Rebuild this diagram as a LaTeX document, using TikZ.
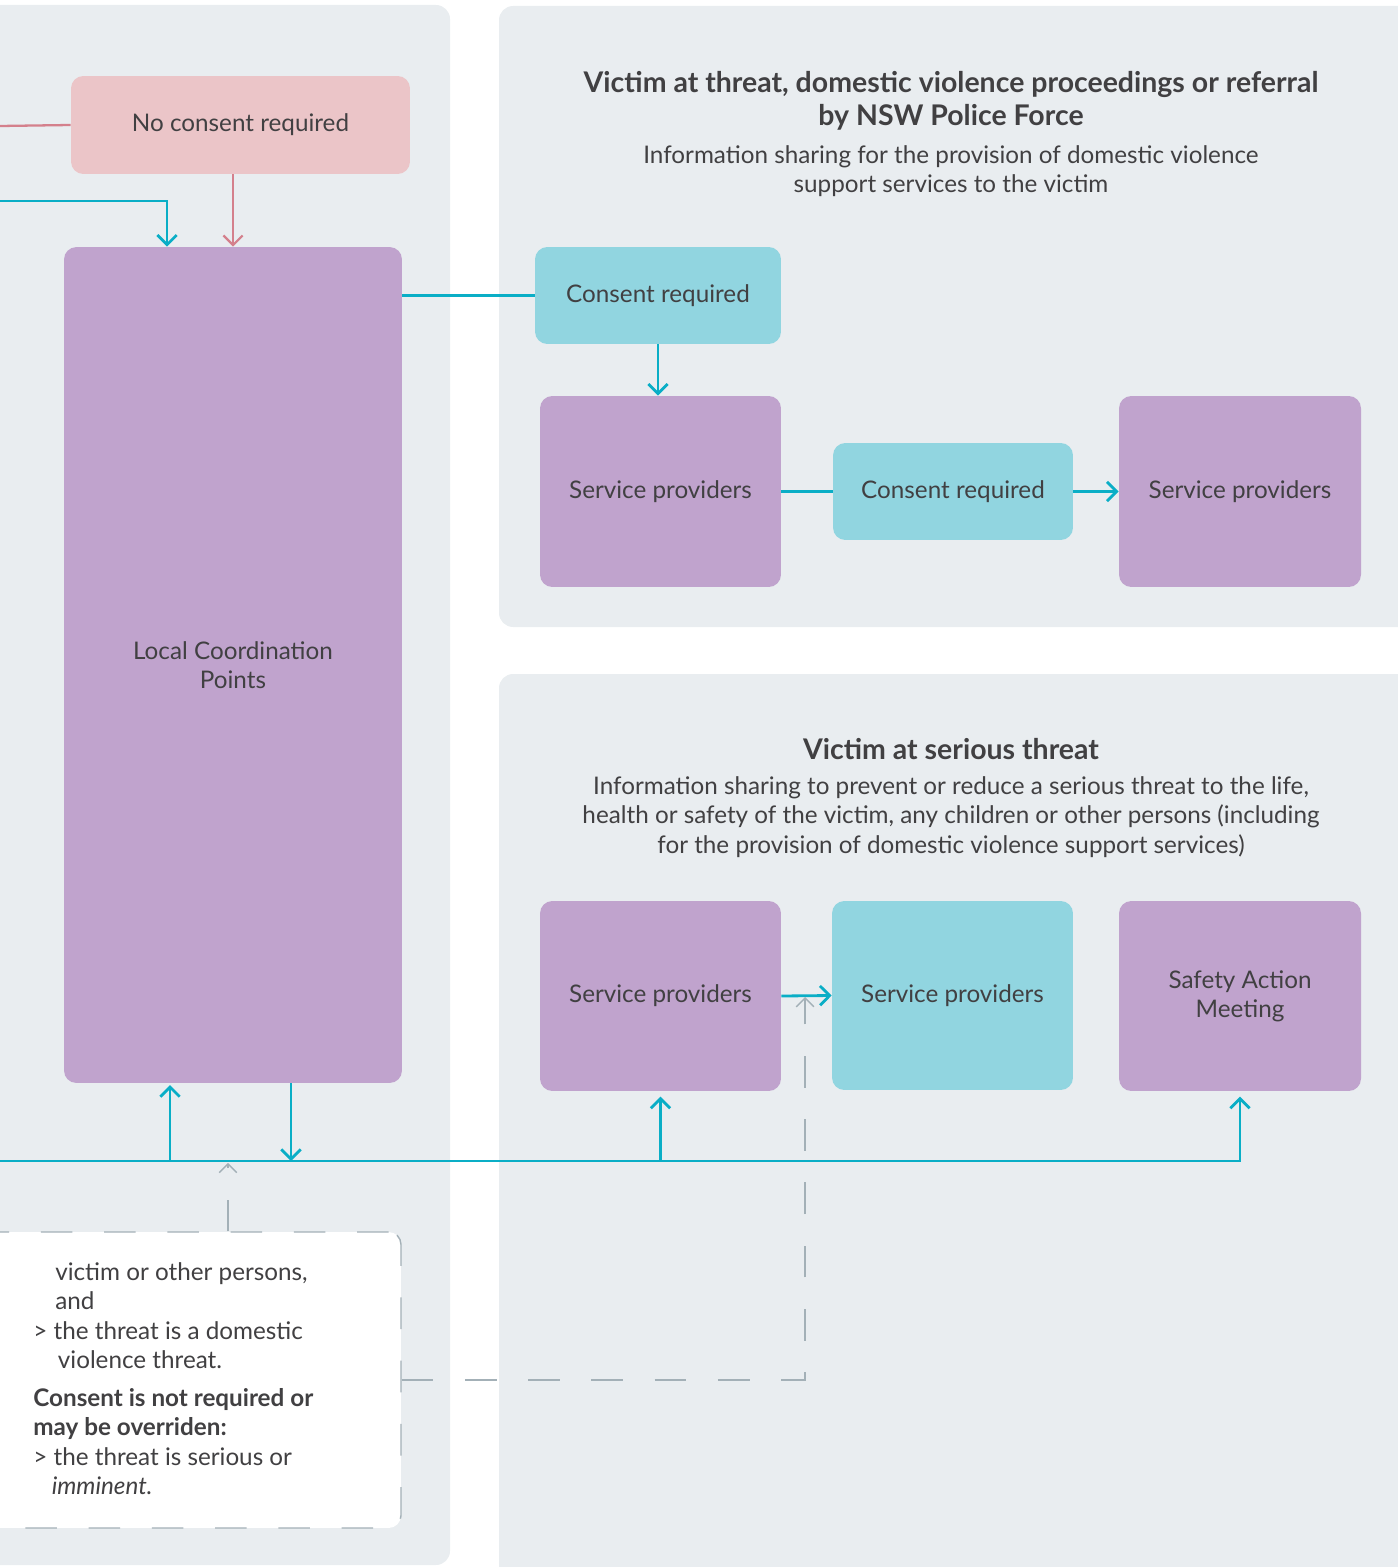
\documentclass[tikz,border=0pt]{standalone}
\usepackage{fontspec}
\setmainfont{Lato}
\usetikzlibrary{arrows.meta,positioning}
\definecolor{painel}{HTML}{E9EDF0}
\definecolor{lilas}{HTML}{C0A3CD}
\definecolor{turquesa}{HTML}{91D5E0}
\definecolor{rosa}{HTML}{EBC5C8}
\definecolor{rosaesc}{HTML}{D4808C}
\definecolor{linha}{HTML}{0AAEC6}
\definecolor{tracejado}{HTML}{A3B0B7}
\definecolor{texto}{HTML}{414042}

\begin{document}
\begin{tikzpicture}[x=0.02cm, y=-0.02cm,
  agency/.style={fill=lilas, rounded corners=7pt, align=center,
                 font=\fontsize{13.8}{16.6}\selectfont, text=texto},
  consent/.style={fill=turquesa, rounded corners=7pt, align=center,
                  font=\fontsize{13.8}{16.6}\selectfont, text=texto},
  noconsent/.style={fill=rosa, rounded corners=7pt, align=center,
                    font=\fontsize{13.8}{16.6}\selectfont, text=texto},
  titulo/.style={align=center, font=\fontsize{16.2}{18.7}\selectfont\bfseries, text=texto},
  subtitulo/.style={align=center, font=\fontsize{13.8}{16.8}\selectfont, text=texto},
  flow/.style={linha, line width=1.6pt, -{Straight Barb[length=5.5pt, width=11pt]}},
  plainflow/.style={linha, line width=1.6pt},
  pinkflow/.style={rosaesc, line width=1.3pt},
  hint/.style={tracejado, line width=0.8pt, dash pattern=on 18pt off 18pt}
]
\useasboundingbox (0,0) rectangle (1397,1567);

% panels
\fill[painel, rounded corners=8pt] (-30,5) rectangle (450,1565);
\fill[painel, rounded corners=8pt] (499,6) rectangle (1430,627);
\fill[painel, rounded corners=8pt] (499,674) rectangle (1430,1600);

% headings
\node[titulo] (t1) at (951,101)
  {Victim at threat, domestic violence proceedings or referral\\by NSW Police Force};
\node[subtitulo] (s1) at (951,171)
  {Information sharing for the provision of domestic violence\\support services to the victim};
\node[titulo] (t2) at (951,749) {Victim at serious threat};
\node[subtitulo] (s2) at (951,817)
  {Information sharing to prevent or reduce a serious threat to the life,\\
   health or safety of the victim, any children or other persons (including\\
   for the provision of domestic violence support services)};

% boxes
\node[noconsent, minimum width=6.78cm, minimum height=1.96cm] (nocons) at (240.5,125) {No consent required};
\node[agency, minimum width=6.76cm, minimum height=16.72cm] (lcp) at (233,665) {Local Coordination\\Points};
\node[consent, minimum width=4.92cm, minimum height=1.94cm] (cons1) at (658,295.5) {Consent required};
\node[agency, minimum width=4.82cm, minimum height=3.82cm] (sp1) at (660.5,491.5) {Service providers};
\node[consent, minimum width=4.8cm, minimum height=1.94cm] (cons2) at (953,491.5) {Consent required};
\node[agency, minimum width=4.84cm, minimum height=3.82cm] (sp2) at (1240,491.5) {Service providers};
\node[agency, minimum width=4.82cm, minimum height=3.8cm] (sp3) at (660.5,996) {Service providers};
\node[consent, minimum width=4.82cm, minimum height=3.78cm] (sp4) at (952.5,995.5) {Service providers};
\node[agency, minimum width=4.84cm, minimum height=3.8cm] (sam) at (1240,996) {Safety Action\\Meeting};

% note
\node[fill=white, draw=tracejado, line width=0.8pt, dash pattern=on 18pt off 18pt,
      rounded corners=7pt, minimum width=8.62cm, minimum height=5.92cm] (note) at (185.5,1380) {};
\node[anchor=north west, inner sep=0pt, align=left, text=texto,
      font=\fontsize{13.8}{16.8}\selectfont] (notetxt) at (33,1262)
  {\hspace*{12.5pt}victim or other persons,\\
   \hspace*{12.5pt}and\\
   > the threat is a domestic\\
   \hspace*{14pt}violence threat.\\[4.5pt]
   \textbf{Consent is not required or}\\
   \textbf{may be overriden:}\\
   > the threat is serious or\\
   \hspace*{10.5pt}\textit{imminent.}};

% connectors
\coordinate (pinkin) at (0,126);
\coordinate (tealin) at (0,201);
\coordinate (busin) at (0,1161);
\coordinate (gatetip) at (805,997);
\draw[pinkflow] (pinkin) -- (nocons.west);
\draw[pinkflow, -{Straight Barb[length=5.5pt, width=11pt]}] (nocons.south -| lcp.north) -- (lcp.north);
\draw[flow] (tealin) -| ([xshift=-1.32cm]lcp.north);
\draw[plainflow] (lcp.east |- cons1.west) -- (cons1.west);
\draw[flow] (cons1.south) -- (cons1.south |- sp1.north);
\draw[plainflow] (sp1.east) -- (cons2.west);
\draw[flow] (cons2.east) -- (sp2.west);
\draw[flow] (sp3.east) -- (sp4.west);
\draw[flow, shorten >=3pt] (busin) -| (sam.south);
\draw[flow, shorten >=1pt] ([xshift=-1.26cm]lcp.south |- busin) -- ([xshift=-1.26cm]lcp.south);
\draw[flow] ([xshift=1.16cm]lcp.south) -- ([xshift=1.16cm]lcp.south |- busin);
\draw[flow, shorten >=3pt] (sp3.south |- busin) -- (sp3.south);
\draw[hint, -{Straight Barb[length=5pt, width=10pt]}] ([xshift=0.85cm]note.north) -- ([xshift=0.85cm, yshift=-1pt]note.north |- busin);
\draw[hint, -{Straight Barb[length=5pt, width=10pt]}] (note.east) -| (gatetip);
\end{tikzpicture}
\end{document}
